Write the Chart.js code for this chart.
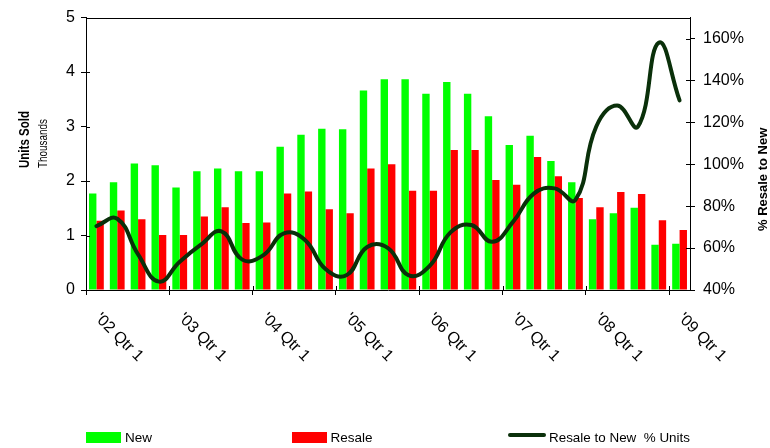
<!DOCTYPE html>
<html>
<head>
<meta charset="utf-8">
<script src="https://cdn.jsdelivr.net/npm/chart.js@4.4.0/dist/chart.umd.min.js"></script>
<style>
html,body{margin:0;padding:0;background:#fff;}
#wrap{width:770px;height:448px;position:relative;}
canvas{display:block;}
</style>
</head>
<body>
<div id="wrap"><canvas id="c" width="770" height="448"></canvas></div>
<script>
// ---- Data ----
const categories = [
  "'02 Qtr 1","'02 Qtr 2","'02 Qtr 3","'02 Qtr 4",
  "'03 Qtr 1","'03 Qtr 2","'03 Qtr 3","'03 Qtr 4",
  "'04 Qtr 1","'04 Qtr 2","'04 Qtr 3","'04 Qtr 4",
  "'05 Qtr 1","'05 Qtr 2","'05 Qtr 3","'05 Qtr 4",
  "'06 Qtr 1","'06 Qtr 2","'06 Qtr 3","'06 Qtr 4",
  "'07 Qtr 1","'07 Qtr 2","'07 Qtr 3","'07 Qtr 4",
  "'08 Qtr 1","'08 Qtr 2","'08 Qtr 3","'08 Qtr 4",
  "'09 Qtr 1"
];
const newUnits = [1.77,1.98,2.32,2.29,1.88,2.18,2.23,2.18,2.18,2.63,2.85,2.96,2.95,3.66,3.87,3.87,3.60,3.82,3.60,3.19,2.66,2.83,2.37,1.98,1.30,1.41,1.51,0.83,0.85];
const resaleUnits = [1.27,1.46,1.30,1.01,1.01,1.35,1.52,1.23,1.24,1.77,1.81,1.48,1.41,2.23,2.31,1.82,1.82,2.57,2.57,2.02,1.93,2.44,2.09,1.69,1.52,1.80,1.76,1.28,1.10];
const resaleToNewPct = [70.5,74,57,44,53.5,61.5,68,54.5,56.5,67,64,50,47,60.5,60,47,51.5,67.5,71,63,72.5,86,88.5,83,118,128,118,158,130.5];
const shownCategoryLabels = ["'02 Qtr 1","'03 Qtr 1","'04 Qtr 1","'05 Qtr 1","'06 Qtr 1","'07 Qtr 1","'08 Qtr 1","'09 Qtr 1"];
const leftTickMax = 5;
const rightTickMin = 40, rightTickMax = 170, rightTickTop = 160;
const seriesNames = ["New", "Resale", "Resale to New  % Units"];
const leftTitle = "Units Sold", leftSubtitle = "Thousands", rightTitle = "% Resale to New";

const FONT = '"Liberation Sans", Arial, sans-serif';
Chart.defaults.font.family = FONT;
Chart.defaults.color = '#000';

const GREEN = '#00ff00', RED = '#ff0000', DARK = '#0a300a';

const decorPlugin = {
  id: 'decor',
  afterDraw(chart) {
    const ctx = chart.ctx;
    const a = chart.chartArea;
    const xs = chart.scales.x, ys = chart.scales.y, y2 = chart.scales.y2;
    ctx.save();
    // top border of plot area
    ctx.strokeStyle = '#000';
    ctx.lineWidth = 1;
    ctx.beginPath();
    ctx.moveTo(a.left, Math.round(a.top) + 0.5);
    ctx.lineTo(a.right, Math.round(a.top) + 0.5);
    // inner halves of the crossing tick marks
    ys.ticks.forEach(t => {
      const p = Math.round(ys.getPixelForValue(t.value)) + 0.5;
      ctx.moveTo(a.left, p); ctx.lineTo(a.left + 4, p);
    });
    y2.ticks.forEach(t => {
      const p = Math.round(y2.getPixelForValue(t.value)) + 0.5;
      ctx.moveTo(a.right - 4, p); ctx.lineTo(a.right, p);
    });
    const half = (xs.getPixelForValue(1) - xs.getPixelForValue(0)) / 2;
    categories.forEach((c, i) => {
      if (!shownCategoryLabels.includes(c)) return;
      const p = Math.round(xs.getPixelForValue(i) - half) + 0.5;
      ctx.moveTo(p, a.bottom - 4); ctx.lineTo(p, a.bottom);
    });
    ctx.stroke();

    // rotated category labels
    ctx.fillStyle = '#000';
    ctx.font = '16px ' + FONT;
    ctx.textAlign = 'left';
    ctx.textBaseline = 'alphabetic';
    categories.forEach((c, i) => {
      if (!shownCategoryLabels.includes(c)) return;
      const x = xs.getPixelForValue(i);
      ctx.save();
      ctx.translate(x - 2, 319);
      ctx.rotate(Math.PI / 4);
      ctx.fillText(c, 0, 0);
      ctx.restore();
    });

    // axis titles
    ctx.save();
    ctx.translate(29, 168);
    ctx.rotate(-Math.PI / 2);
    ctx.font = 'bold 14px ' + FONT;
    ctx.fillText(leftTitle, 0, 0, 57);
    ctx.restore();
    ctx.save();
    ctx.translate(47, 168);
    ctx.rotate(-Math.PI / 2);
    ctx.font = '12px ' + FONT;
    ctx.fillText(leftSubtitle, 0, 0, 49);
    ctx.restore();
    ctx.save();
    ctx.translate(767, 231);
    ctx.rotate(-Math.PI / 2);
    ctx.font = 'bold 13px ' + FONT;
    ctx.fillText(rightTitle, 0, 0, 106);
    ctx.restore();

    // legend
    ctx.font = '13.5px ' + FONT;
    const ds = chart.data.datasets;
    ctx.fillStyle = ds[0].backgroundColor;
    ctx.fillRect(86, 432, 35, 11);
    ctx.fillStyle = '#000';
    ctx.fillText(ds[0].label, 125, 442);
    ctx.fillStyle = ds[1].backgroundColor;
    ctx.fillRect(292, 432, 35, 11);
    ctx.fillStyle = '#000';
    ctx.fillText(ds[1].label, 330.5, 442);
    ctx.strokeStyle = ds[2].borderColor;
    ctx.lineWidth = 4;
    ctx.lineCap = 'round';
    ctx.beginPath();
    ctx.moveTo(510, 435);
    ctx.lineTo(544, 435);
    ctx.stroke();
    ctx.fillStyle = '#000';
    ctx.fillText(ds[2].label, 549, 442, 141);
    ctx.restore();
  }
};

new Chart(document.getElementById('c'), {
  type: 'bar',
  data: {
    labels: categories,
    datasets: [
      { label: seriesNames[0], data: newUnits, backgroundColor: GREEN, borderWidth: 0,
        yAxisID: 'y', order: 2, categoryPercentage: 0.71, barPercentage: 1.0 },
      { label: seriesNames[1], data: resaleUnits, backgroundColor: RED, borderWidth: 0,
        yAxisID: 'y', order: 2, categoryPercentage: 0.71, barPercentage: 1.0 },
      { type: 'line', label: seriesNames[2], data: resaleToNewPct, borderColor: DARK,
        backgroundColor: DARK, borderWidth: 4, pointRadius: 0, tension: 0.45, fill: false,
        yAxisID: 'y2', order: 1, borderCapStyle: 'round', borderJoinStyle: 'round' }
    ]
  },
  options: {
    responsive: false,
    animation: false,
    devicePixelRatio: 1,
    layout: { padding: { top: 17, left: 0, right: 0, bottom: 0 } },
    plugins: { legend: { display: false }, tooltip: { enabled: false }, title: { display: false } },
    scales: {
      x: {
        offset: true,
        grid: {
          offset: true, drawOnChartArea: false, drawTicks: true, tickLength: 5,
          color: (c) => (c.index % 4 === 0 ? '#000' : 'rgba(0,0,0,0)')
        },
        border: { display: true, color: '#000', width: 1 },
        ticks: { display: false, autoSkip: false },
        afterFit: (s) => { s.height = 158; }
      },
      y: {
        position: 'left',
        min: 0, max: leftTickMax,
        ticks: { stepSize: 1, font: { size: 16 }, color: '#000', padding: 6 },
        grid: { drawOnChartArea: false, tickLength: 5, color: '#000' },
        border: { display: true, color: '#000', width: 1 },
        afterFit: (s) => { s.width = 86; }
      },
      y2: {
        position: 'right',
        min: rightTickMin, max: rightTickMax,
        ticks: { stepSize: 20, font: { size: 16 }, color: '#000', padding: 8,
                 callback: (v) => v + '%' },
        afterBuildTicks: (s) => { s.ticks = s.ticks.filter(t => t.value <= rightTickTop); },
        grid: { drawOnChartArea: false, tickLength: 5, color: '#000' },
        border: { display: true, color: '#000', width: 1 },
        afterFit: (s) => { s.width = 80; }
      }
    }
  },
  plugins: [decorPlugin]
});
</script>
</body>
</html>
